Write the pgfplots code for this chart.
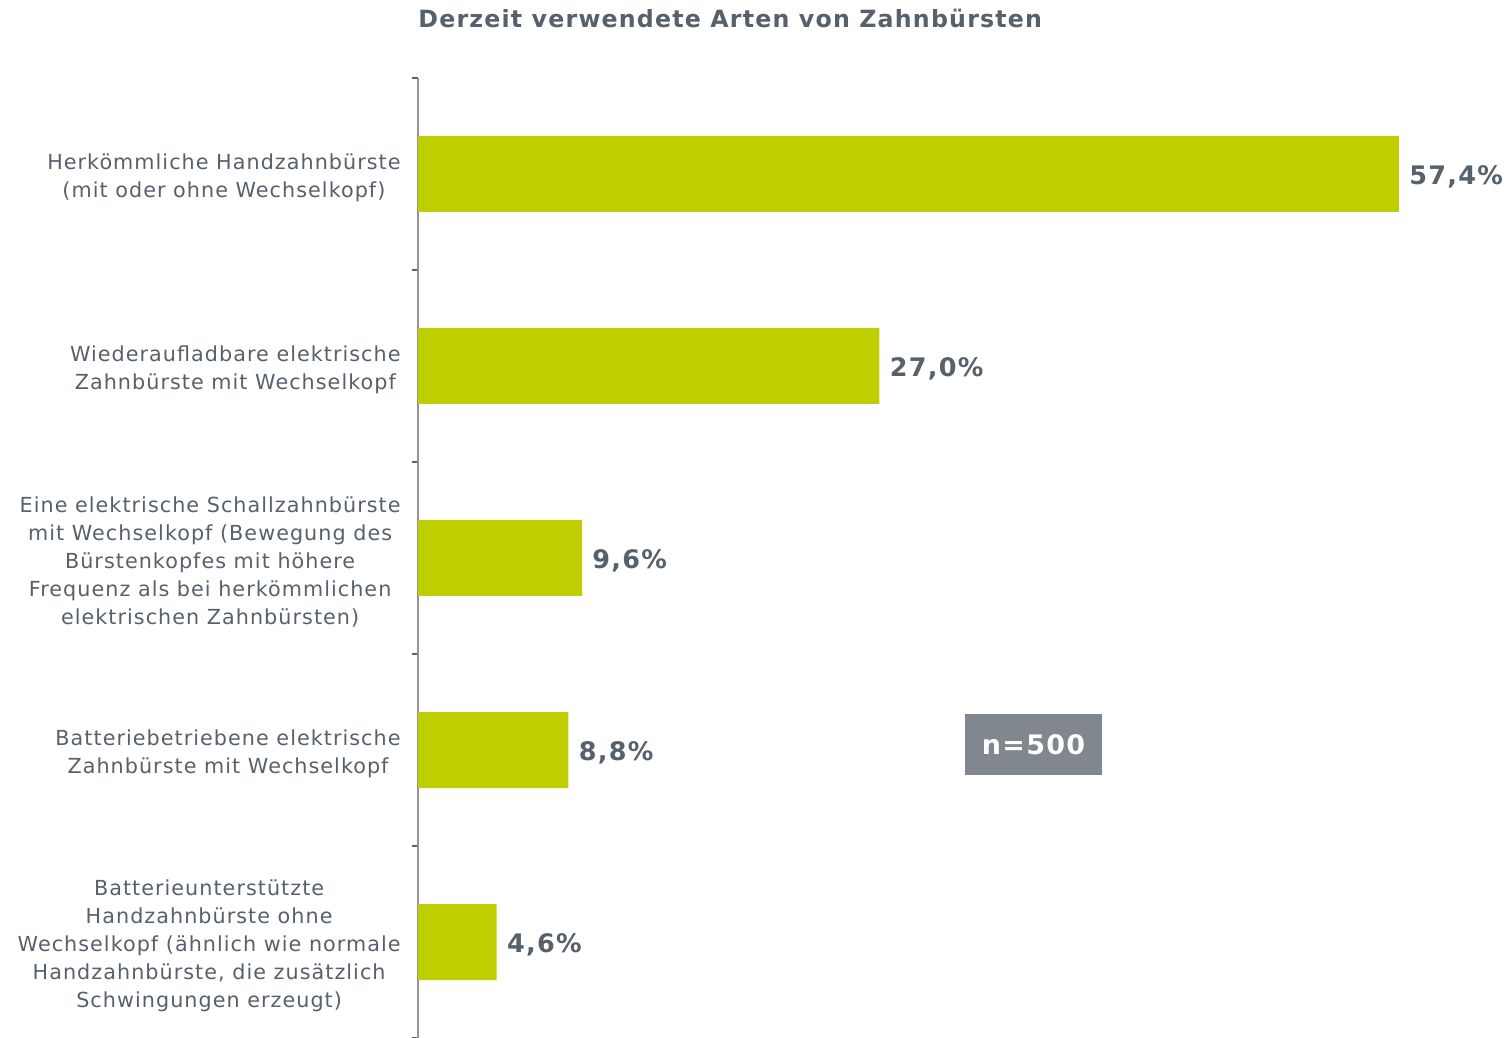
\documentclass[border=0pt]{standalone}
\usepackage{fontspec}
\setmainfont{DejaVu Sans}
\newfontfamily\labfont[LetterSpace=5]{DejaVu Sans}
\usepackage{pgfplots}
\pgfplotsset{compat=1.18}
\definecolor{barc}{HTML}{BFCE00}
\definecolor{txt}{HTML}{56616C}
\definecolor{boxc}{HTML}{80878F}
\definecolor{axc}{HTML}{8E959C}
\begin{document}
\begin{tikzpicture}[x=1bp,y=1bp]
\path[use as bounding box] (0,0) rectangle (755,519);
\begin{axis}[
  at={(209bp,0bp)}, anchor=south west,
  scale only axis, width=546bp, height=480bp,
  xmin=0, xmax=63.9, ymin=-0.5, ymax=4.5, y dir=reverse,
  axis x line=none, axis y line=left,
  y axis line style={-, draw=axc, line width=1bp},
  ytick={0,1,2,3,4},
  minor ytick={-0.5,0.5,1.5,2.5,3.5,4.5},
  major tick length=0pt, minor tick length=3bp, tick align=outside,
  minor tick style={draw=txt, line width=0.8bp},
  yticklabels={
    {Herkömmliche Handzahnbürste\\(mit oder ohne Wechselkopf)},
    {Wiederaufladbare elektrische\\Zahnbürste mit Wechselkopf},
    {Eine elektrische Schallzahnbürste\\mit Wechselkopf (Bewegung des\\Bürstenkopfes mit höhere\\Frequenz als bei herkömmlichen\\elektrischen Zahnbürsten)},
    {Batteriebetriebene elektrische\\Zahnbürste mit Wechselkopf},
    {Batterieunterstützte\\Handzahnbürste ohne\\Wechselkopf (ähnlich wie normale\\Handzahnbürste, die zusätzlich\\Schwingungen erzeugt)}},
  yticklabel style={font=\labfont\fontsize{10.4}{14}\selectfont, text=txt, align=center, inner sep=0pt, xshift=-8.5bp, yshift=-2bp},
  xbar, bar width=38bp,
  clip=false,
  nodes near coords, point meta=explicit symbolic,
  nodes near coords style={font=\labfont\bfseries\fontsize{12.8}{14}\selectfont, text=txt, anchor=west, inner sep=0pt, xshift=5bp, yshift=-1.5bp},
]
\addplot[fill=barc, draw=none] coordinates {(57.4,0)[57,4\%] (27.0,1)[27,0\%] (9.6,2)[9,6\%] (8.8,3)[8,8\%] (4.6,4)[4,6\%]};
\end{axis}
\node[anchor=base west, inner sep=0pt, font=\labfont\bfseries\fontsize{11.9}{14}\selectfont, text=txt] at (209,505) {Derzeit verwendete Arten von Zahnbürsten};
\node[fill=boxc, text=white, font=\labfont\bfseries\fontsize{13.5}{14}\selectfont, minimum width=68.5bp, minimum height=30.5bp, inner sep=0pt] at (516.75,146.75) {n=500};
\end{tikzpicture}
\end{document}
